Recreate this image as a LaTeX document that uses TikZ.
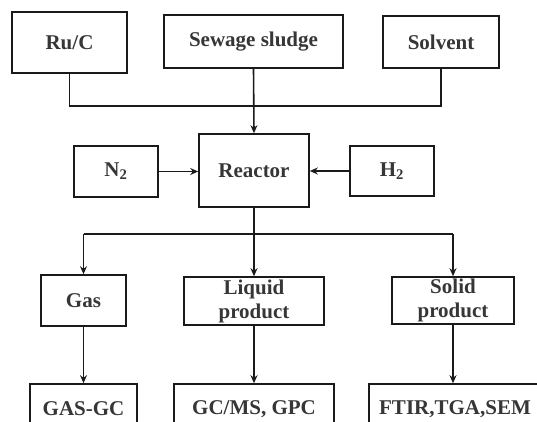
\documentclass[tikz,border=0pt]{standalone}
\usepackage{fontspec}
\setmainfont{Liberation Serif}
\usetikzlibrary{arrows.meta}
\definecolor{txt}{HTML}{363636}
\definecolor{ln}{HTML}{1A1A1A}
\begin{document}
\begin{tikzpicture}[x=1pt,y=-1pt,
  box/.style={draw=ln,line width=1.6pt,inner sep=0pt,align=center,
    font=\fontsize{21}{23}\selectfont\bfseries,text=txt},
  conn/.style={draw=ln,line width=1.6pt},
  arr/.style={conn,-{Stealth[length=8pt,width=7pt]}}]
\clip (0,0) rectangle (537,422);
\fill[white] (0,0) rectangle (537,422);
% top row
\node[box,minimum width=115pt,minimum height=61pt] (ruc) at (69.5,42.5) {Ru/C};
\node[box,minimum width=179pt,minimum height=53pt] (sew) at (253.5,41.5) {Sewage sludge};
\node[box,minimum width=116pt,minimum height=52pt] (sol) at (441,42) {Solvent};
% middle row
\node[box,minimum width=84pt,minimum height=51pt] (n2) at (116,171.5) {N\textsubscript{2}};
\node[box,minimum width=110pt,minimum height=73pt] (reac) at (254,170.5) {Reactor};
\node[box,minimum width=84pt,minimum height=50pt] (h2) at (392,171) {H\textsubscript{2}};
% product row
\node[box,minimum width=85pt,minimum height=51pt] (gas) at (83.5,300.5) {Gas};
\node[box,minimum width=140pt,minimum height=48pt] (liq) at (254,301) {Liquid\\[1pt]product};
\node[box,minimum width=122pt,minimum height=47pt] (solid) at (453,300.5) {Solid\\[1pt]product};
% analysis row
\node[box,minimum width=107pt,minimum height=50pt] (gasgc) at (83.5,409) {GAS-GC};
\node[box,minimum width=160pt,minimum height=50pt] (gcms) at (254,409) {GC/MS, GPC};
\node[box,minimum width=172pt,minimum height=50pt] (ftir) at (455,409) {FTIR,TGA,SEM};
% feed lines
\coordinate (join) at (254,106);
\draw[conn] (ruc.south) |- (join);
\draw[conn] (sol.south) |- (join);
\draw[arr] (sew.south) -- (reac.north);
\draw[arr] (n2.east) -- (n2.east -| reac.west);
\draw[arr] (h2.west) -- (h2.west -| reac.east);
% distribution
\coordinate (split) at (254,234);
\draw[conn] (reac.south) -- (split);
\draw[conn] (gas.north |- split) -- (solid.north |- split);
\draw[arr] (gas.north |- split) -- (gas.north);
\draw[arr] (split) -- (liq.north);
\draw[arr] (solid.north |- split) -- (solid.north);
% analysis
\draw[arr] (gas.south) -- (gasgc.north);
\draw[arr] (liq.south) -- (gcms.north);
\draw[arr] (solid.south) -- (solid.south |- ftir.north);
\end{tikzpicture}
\end{document}
